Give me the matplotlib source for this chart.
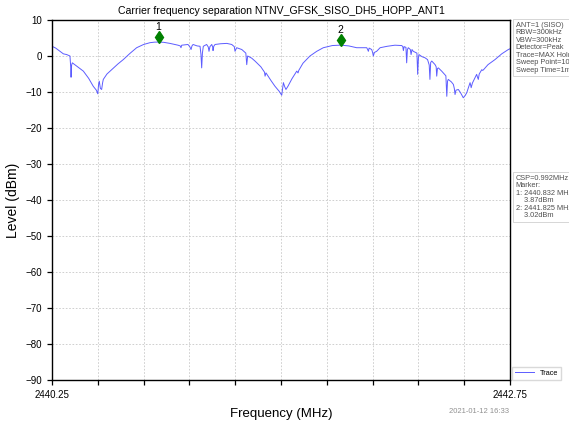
import matplotlib
matplotlib.use('Agg')
import matplotlib.pyplot as plt

plt.rcParams['font.family'] = ['Liberation Sans', 'DejaVu Sans']

# Trace (MHz, dBm)
freq = [2440.250, 2440.270, 2440.294, 2440.312, 2440.330, 2440.348, 2440.352, 2440.354,
        2440.357, 2440.361, 2440.390, 2440.421, 2440.450, 2440.475, 2440.492, 2440.500,
        2440.504, 2440.508, 2440.514, 2440.521, 2440.526, 2440.530, 2440.550, 2440.576,
        2440.610, 2440.639, 2440.675, 2440.712, 2440.750, 2440.785, 2440.810, 2440.832,
        2440.860, 2440.894, 2440.920, 2440.938, 2440.950, 2440.954, 2440.958, 2440.975,
        2440.992, 2441.002, 2441.009, 2441.014, 2441.020, 2441.042, 2441.058, 2441.063,
        2441.067, 2441.071, 2441.076, 2441.094, 2441.103, 2441.107, 2441.112, 2441.122,
        2441.127, 2441.129, 2441.133, 2441.140, 2441.170, 2441.204, 2441.231, 2441.245,
        2441.249, 2441.258, 2441.286, 2441.308, 2441.313, 2441.318, 2441.340, 2441.358,
        2441.390, 2441.410, 2441.413, 2441.418, 2441.422, 2441.445, 2441.467, 2441.490,
        2441.504, 2441.509, 2441.513, 2441.520, 2441.527, 2441.538, 2441.560, 2441.586,
        2441.590, 2441.593, 2441.597, 2441.620, 2441.658, 2441.695, 2441.731, 2441.780,
        2441.825, 2441.870, 2441.913, 2441.945, 2441.968, 2441.973, 2441.977, 2441.981,
        2441.995, 2442.000, 2442.004, 2442.010, 2442.022, 2442.041, 2442.080, 2442.122,
        2442.159, 2442.165, 2442.168, 2442.172, 2442.182, 2442.186, 2442.190, 2442.195,
        2442.206, 2442.210, 2442.215, 2442.222, 2442.242, 2442.246, 2442.250, 2442.253,
        2442.270, 2442.286, 2442.300, 2442.309, 2442.313, 2442.317, 2442.323, 2442.341,
        2442.347, 2442.350, 2442.354, 2442.359, 2442.377, 2442.400, 2442.405, 2442.409,
        2442.413, 2442.430, 2442.441, 2442.446, 2442.450, 2442.455, 2442.468, 2442.480,
        2442.495, 2442.505, 2442.514, 2442.532, 2442.535, 2442.538, 2442.545, 2442.568,
        2442.572, 2442.577, 2442.582, 2442.596, 2442.600, 2442.604, 2442.630, 2442.668,
        2442.705, 2442.741, 2442.750]
level = [2.7, 2.2, 1.3, 0.6, 0.4, 0.0, -3.0, -5.9,
         -2.5, -1.9, -3.0, -4.2, -6.2, -8.4, -9.5, -10.5,
         -8.0, -7.0, -9.0, -9.3, -7.5, -6.5, -5.0, -3.8,
         -2.2, -1.0, 0.7, 2.3, 3.2, 3.7, 3.85, 3.87,
         3.8, 3.5, 3.2, 3.0, 2.8, 2.3, 3.0, 3.1,
         3.2, 2.6, 1.8, 2.8, 3.2, 2.8, 2.7, 0.5,
         -3.3, 0.8, 2.7, 3.2, 2.5, 1.3, 2.6, 3.2,
         2.5, 1.5, 2.7, 3.2, 3.4, 3.5, 3.2, 2.6,
         1.3, 2.3, 1.8, 0.8, -2.4, 0.0, -0.6, -1.4,
         -3.0, -4.5, -5.6, -4.7, -5.0, -6.8, -8.4, -9.8,
         -10.9, -9.0, -7.4, -8.5, -9.3, -8.4, -6.3, -4.2,
         -4.5, -4.7, -4.0, -2.0, 0.0, 1.3, 2.3, 2.9,
         3.02, 2.8, 2.3, 2.3, 2.3, 1.8, 1.3, 2.2,
         1.8, 1.0, 0.0, 1.0, 1.3, 2.3, 2.7, 3.0,
         2.9, 2.6, 1.5, 2.6, 2.4, -1.9, 1.8, 2.3,
         1.8, 0.4, 1.8, 1.3, 0.8, -5.1, -0.6, 0.4,
         -0.2, -0.5, -1.0, -2.5, -6.5, -1.8, -1.4, -2.4,
         -3.0, -5.6, -3.5, -3.3, -4.2, -5.5, -11.2, -7.0,
         -6.5, -7.2, -7.9, -9.0, -10.7, -9.5, -9.3, -10.2,
         -11.6, -11.0, -10.2, -7.4, -8.0, -8.8, -7.5, -5.1,
         -5.8, -6.5, -5.0, -3.8, -4.0, -3.9, -2.4, -1.0,
         0.6, 1.8, 2.0]

mark_freq = [2440.832, 2441.825]
mark_level = [3.87, 3.02]
mark_names = ['1', '2']

fig = plt.figure(figsize=(5.69, 4.21), dpi=100)
ax = fig.add_axes([0.0914, 0.0974, 0.8049, 0.8551])

ax.plot(freq, level, color='#5c5cff', linewidth=0.7, label='Trace')

for f, lv, name in zip(mark_freq, mark_level, mark_names):
    ax.plot(f, lv + 1.3, marker='d', markersize=6, color='green', linestyle='none')
    ax.text(f, lv + 2.9, name, ha='center', va='bottom', fontsize=7.5)

ax.set_xlim(2440.25, 2442.75)
ax.set_ylim(-90, 10)
xt = [2440.25 + 0.25 * i for i in range(11)]
ax.set_xticks(xt)
ax.set_xticklabels(['2440.25'] + [''] * 9 + ['2442.75'])
ax.set_yticks(range(-90, 11, 10))
ax.tick_params(labelsize=7, length=3.5, width=0.9)
ax.grid(True, linestyle=(0, (2, 2)), color='#c8c8c8', linewidth=0.6)
for sp in ax.spines.values():
    sp.set_linewidth(1.0)

ax.set_title('Carrier frequency separation NTNV_GFSK_SISO_DH5_HOPP_ANT1', fontsize=7.6, pad=4)
ax.set_xlabel('Frequency (MHz)', fontsize=9.5, labelpad=6)
ax.set_ylabel('Level (dBm)', fontsize=10, labelpad=4)

fig.text(0.895, 0.015, '2021-01-12 16:33', fontsize=5.5, color='#909090', ha='right', va='bottom')

# side boxes run past the figure edge, as in the reference
box = dict(boxstyle='square,pad=0.35', facecolor='white', edgecolor='#d0d0d0', linewidth=0.6)
fig.text(0.906, 0.948, 'ANT=1 (SISO)\nRBW=300kHz\nVBW=300kHz\nDetector=Peak\nTrace=MAX Hold\n'
         'Sweep Point=1001\nSweep Time=1ms', fontsize=5.3, va='top', ha='left',
         color='#505050', linespacing=1.1, bbox=box)
fig.text(0.906, 0.585, 'CSP=0.992MHz\nMarker:\n1: 2440.832 MHz\n    3.87dBm\n2: 2441.825 MHz\n    3.02dBm',
         fontsize=5.3, va='top', ha='left', color='#505050', linespacing=1.1, bbox=box)

ax.legend(loc='lower left', bbox_to_anchor=(1.0, -0.005), fontsize=5.3, frameon=True,
          handlelength=2.5, borderaxespad=0.3, fancybox=False, edgecolor='#d0d0d0')

fig.savefig('out.png', dpi=100)
